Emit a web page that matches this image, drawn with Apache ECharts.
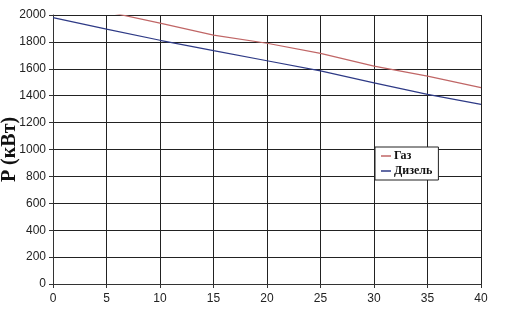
<!DOCTYPE html>
<html><head><meta charset="utf-8">
<script src="https://cdn.jsdelivr.net/npm/echarts@6/dist/echarts.min.js"></script>
<style>html,body{margin:0;padding:0;background:#fff}#c{width:519px;height:316px}</style>
</head><body><div id="c"></div>
<script>
const xValues = [0, 5, 10, 15, 20, 25, 30, 35, 40];
const gas = [2115, 2025, 1940, 1850, 1790, 1715, 1620, 1545, 1460];
const diesel = [1980, 1895, 1812, 1735, 1660, 1585, 1495, 1410, 1335];
const seriesNames = ['Газ', 'Дизель'];
const yName = 'P (кВт)';

const chart = echarts.init(document.getElementById('c'));
const lab = {color: '#222', fontFamily: 'Liberation Sans Narrow, Arial Narrow, Liberation Sans', fontSize: 12};
chart.setOption({
  backgroundColor: '#fff',
  animation: false,
  grid: {left: 53, right: 38, top: 15, bottom: 32, containLabel: false, outerBoundsMode: 'none'},
  legend: {
    left: 375, top: 147, orient: 'vertical',
    data: seriesNames,
    icon: 'rect', itemWidth: 10, itemHeight: 1.5, itemGap: 3,
    borderColor: '#222', borderWidth: 1, padding: [3, 6, 3, 6],
    backgroundColor: '#fff',
    textStyle: {fontFamily: 'Liberation Serif', fontSize: 12, fontWeight: 'bold', color: '#111', padding: [0, 0, 0, -2]}
  },
  xAxis: {
    type: 'value', min: 0, max: 40, interval: 5,
    axisLine: {show: true, lineStyle: {color: '#333', width: 1}},
    axisTick: {show: true, length: 4, lineStyle: {color: '#333'}},
    axisLabel: Object.assign({margin: 9, formatter: v => String(v)}, lab),
    splitLine: {show: true, lineStyle: {color: '#222', width: 1}}
  },
  yAxis: {
    type: 'value', min: 0, max: 2000, interval: 200,
    name: yName, nameLocation: 'middle', nameGap: 33, nameMoveOverlap: false,
    nameTextStyle: {fontFamily: 'Liberation Serif', fontSize: 20, fontWeight: 'bold', color: '#111'},
    axisLine: {show: true, lineStyle: {color: '#333', width: 1}},
    axisTick: {show: true, length: 4, lineStyle: {color: '#333'}},
    axisLabel: Object.assign({margin: 7, formatter: v => String(v)}, lab),
    splitLine: {show: true, lineStyle: {color: '#222', width: 1}}
  },
  series: [
    {name: seriesNames[0], type: 'line', data: xValues.map((x, i) => [x, gas[i]]),
     symbol: 'none', lineStyle: {color: '#c06666', width: 1.2}, itemStyle: {color: '#c06666'}, clip: true},
    {name: seriesNames[1], type: 'line', data: xValues.map((x, i) => [x, diesel[i]]),
     symbol: 'none', lineStyle: {color: '#2e3a86', width: 1.2}, itemStyle: {color: '#2e3a86'}, clip: true}
  ]
});
</script></body></html>
